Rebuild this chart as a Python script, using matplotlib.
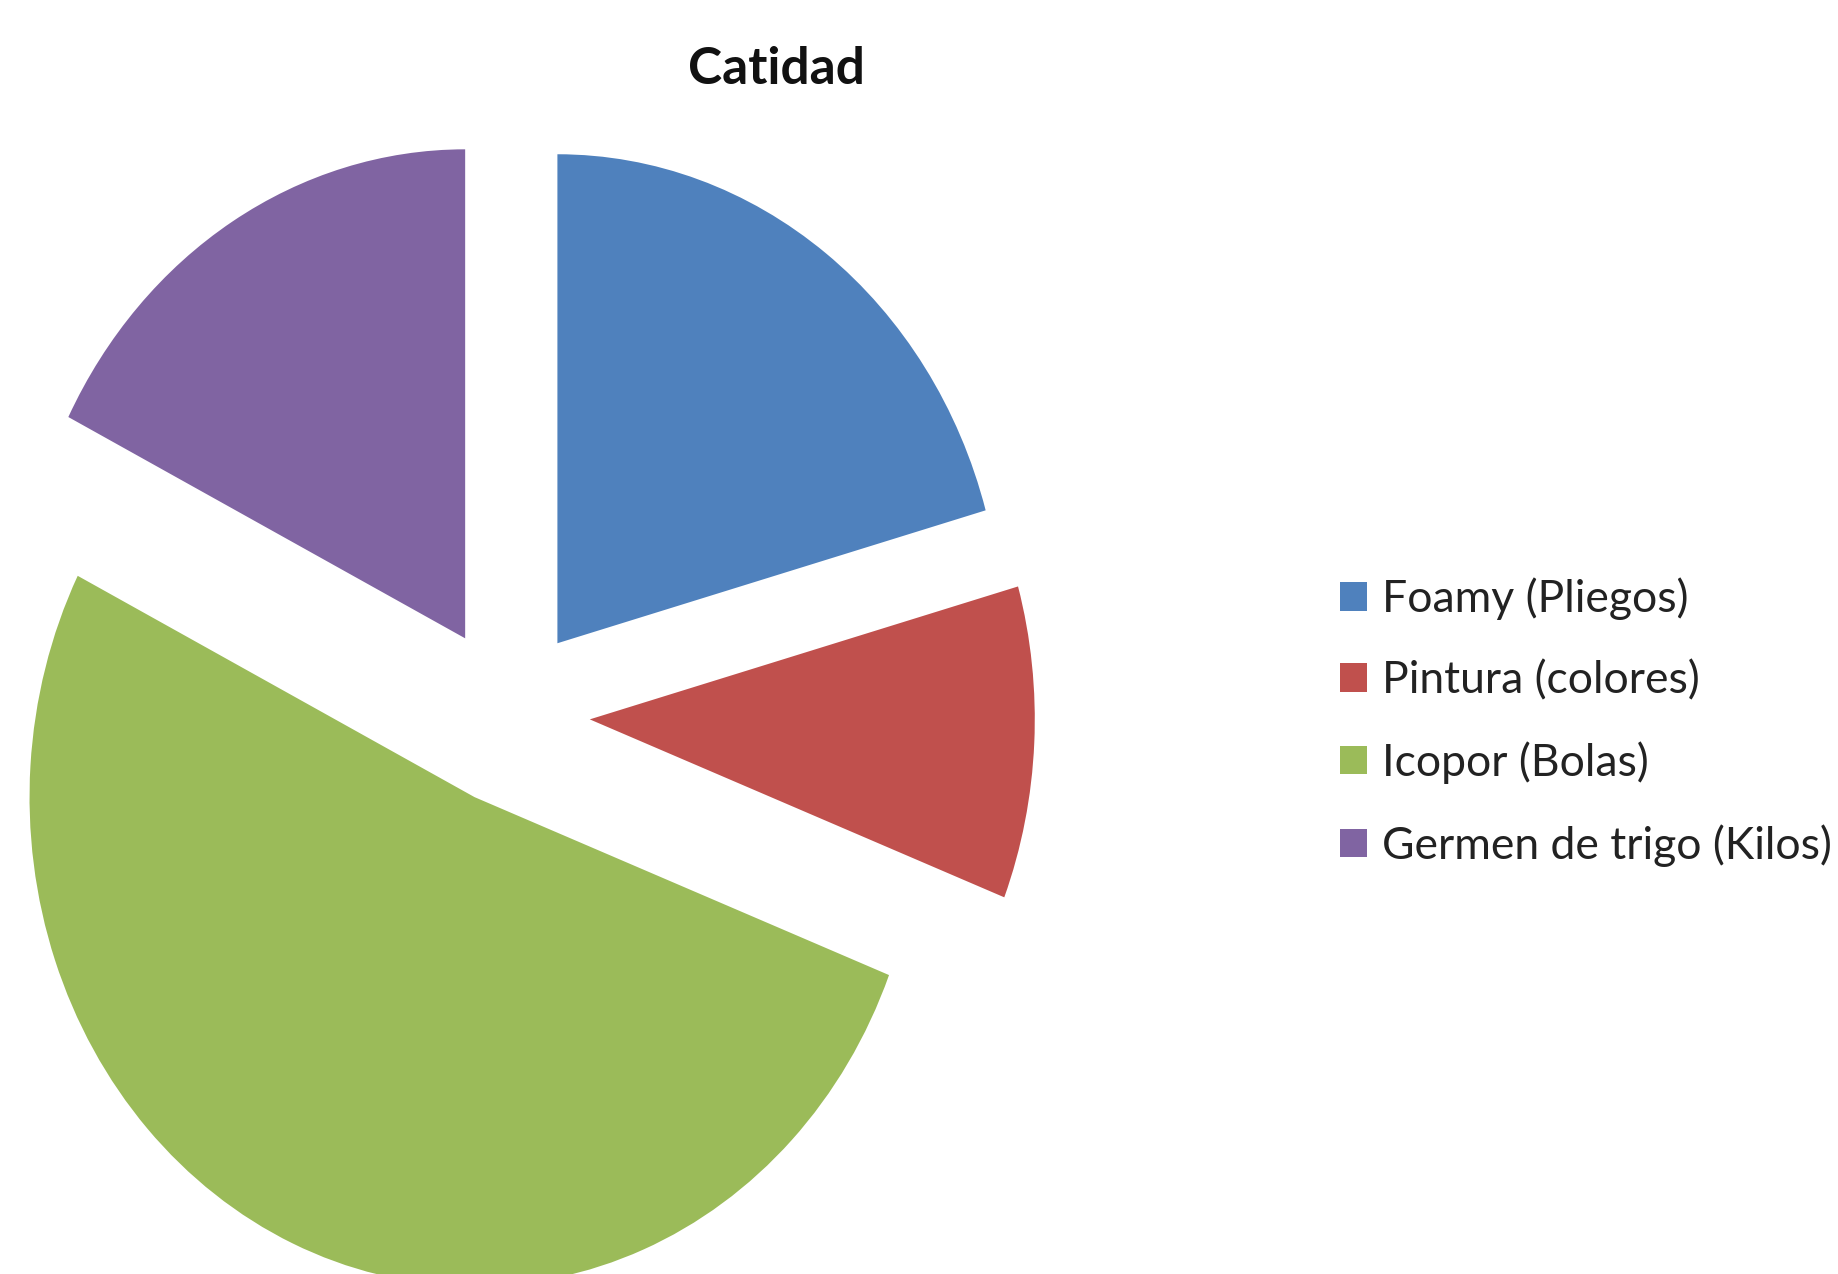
import matplotlib.pyplot as plt

# data
labels = ['Foamy (Pliegos)', 'Pintura (colores)', 'Icopor (Bolas)', 'Germen de trigo (Kilos)']
values = [20, 10, 50, 17]
colors = ['#4F81BD', '#C0504D', '#9BBB59', '#8064A2']
explode = [0.184, 0.184, 0.184, 0.184]

plt.rcParams['font.family'] = ['Lato', 'DejaVu Sans']

fig = plt.figure(figsize=(18.38, 12.74), dpi=100)
ax = fig.add_axes([0, 0, 1, 1])

wedges, _ = ax.pie(values, colors=colors, explode=explode, startangle=90,
                   counterclock=False, wedgeprops=dict(linewidth=0))

# pie in the original is a bit taller than wide
ax.set_aspect('auto')
ax.set_xlim(-508 / 445, (1838 - 508) / 445)
ax.set_ylim((715 - 1274) / 489, 715 / 489)
ax.axis('off')

fig.text(776 / 1838, 1 - 69 / 1274, 'Catidad', ha='center', va='center',
         fontsize=37, fontweight='bold', color='#111111')

fig.legend(wedges, labels, loc='center left', bbox_to_anchor=(1340 / 1838, 1 - 722 / 1274),
           frameon=False, fontsize=32, handlelength=0.6, handleheight=0.6,
           handletextpad=0.34, labelspacing=0.9, borderpad=0, borderaxespad=0,
           labelcolor='#222222')

fig.savefig('out.png', dpi=100)
